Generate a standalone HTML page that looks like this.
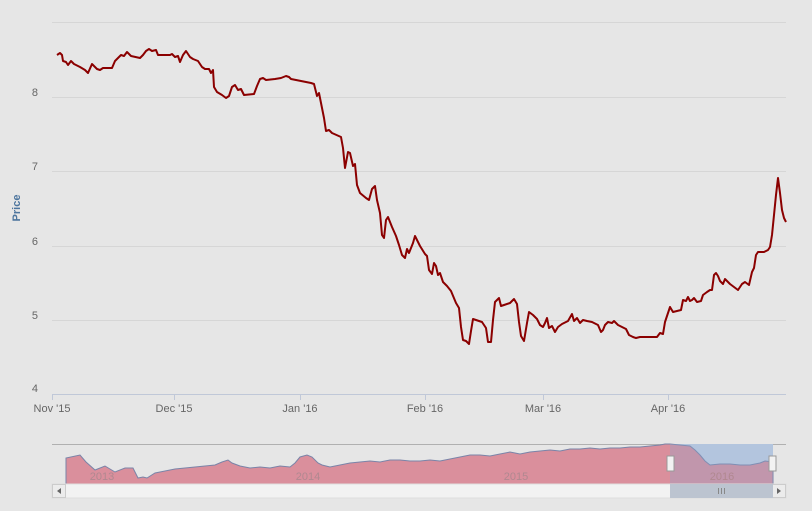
<!DOCTYPE html>
<html><head><meta charset="utf-8"><style>
html,body{margin:0;padding:0;background:#e6e6e6;}
svg{display:block;font-family:"Liberation Sans",sans-serif;}
</style></head><body>
<svg width="812" height="511" viewBox="0 0 812 511" xmlns="http://www.w3.org/2000/svg">
<rect width="812" height="511" fill="#e6e6e6"/>
<g stroke="#d6d6d6" stroke-width="1">
<line x1="52" y1="22.5" x2="786" y2="22.5"/>
<line x1="52" y1="97.5" x2="786" y2="97.5"/>
<line x1="52" y1="171.5" x2="786" y2="171.5"/>
<line x1="52" y1="246.5" x2="786" y2="246.5"/>
<line x1="52" y1="320.5" x2="786" y2="320.5"/>
</g>
<line x1="52" y1="394.5" x2="786" y2="394.5" stroke="#c0c8d8"/>
<g stroke="#c0c8d8">
<line x1="52.5" y1="394" x2="52.5" y2="400"/><line x1="174.5" y1="394" x2="174.5" y2="400"/>
<line x1="300.5" y1="394" x2="300.5" y2="400"/><line x1="425.5" y1="394" x2="425.5" y2="400"/>
<line x1="543.5" y1="394" x2="543.5" y2="400"/><line x1="668.5" y1="394" x2="668.5" y2="400"/>
</g>
<g fill="#666" font-size="11" text-anchor="end">
<text x="38" y="96">8</text><text x="38" y="170">7</text><text x="38" y="245">6</text>
<text x="38" y="319">5</text><text x="38" y="392">4</text>
</g>
<text x="20" y="208" fill="#4d759e" font-size="11" font-weight="bold" transform="rotate(-90 20 208)" text-anchor="middle">Price</text>
<g fill="#666" font-size="11" text-anchor="middle">
<text x="52" y="412">Nov '15</text><text x="174" y="412">Dec '15</text><text x="300" y="412">Jan '16</text>
<text x="425" y="412">Feb '16</text><text x="543" y="412">Mar '16</text><text x="668" y="412">Apr '16</text>
</g>
<polyline fill="none" stroke="#8b0000" stroke-width="2" stroke-linejoin="round" points="57,55 60,53 62,55 63,61 66,62 68,65 71,61 74,64 80,67 85,70 88,73 92,64 97,69 100,70 103,68 112,68 115,61 118,58 121,55 124,56 127,52 131,56 140,58 143,55 146,51 149,49 152,51 156,50 158,55 170,55 172,54 175,57 178,56 180,62 183,55 186,51 190,57 193,59 198,61 202,67 205,69 209,69 211,73 213,70 214,87 217,92 222,95 226,98 229,96 232,87 235,85 238,90 241,89 244,95 254,94 257,86 260,79 263,78 266,80 275,79 281,78 286,76 289,77 291,79 306,82 311,83 314,84 317,96 319,93 321,103 324,118 326,131 329,130 332,133 341,137 343,148 345,168 348,152 350,153 353,166 355,164 357,185 360,193 366,198 369,200 372,189 375,186 377,200 380,213 382,235 384,238 386,220 388,217 392,227 396,236 399,245 402,255 405,258 407,249 409,253 413,243 415,236 420,246 425,254 427,256 429,270 432,274 434,263 436,266 438,275 440,273 443,282 447,286 451,291 456,303 459,308 461,327 463,340 466,341 469,344 471,331 473,319 476,320 482,322 486,328 488,342 491,342 493,320 495,302 499,298 501,306 504,305 510,303 514,299 517,304 519,322 521,336 524,341 527,323 529,312 533,315 537,319 540,325 543,327 545,323 547,318 549,328 552,326 555,332 558,327 562,324 568,321 572,314 574,321 577,318 580,323 583,320 587,321 592,322 598,325 601,332 603,330 605,325 608,322 612,323 614,321 618,325 622,327 626,329 629,335 633,337 636,338 640,337 650,337 657,337 660,333 663,334 665,322 668,313 670,307 673,312 681,310 683,300 686,301 688,297 690,301 692,300 694,298 697,302 701,301 703,295 707,292 710,290 712,290 714,275 716,273 718,276 720,281 723,284 725,279 730,284 738,290 742,284 745,282 749,285 752,272 754,268 756,255 758,252 764,252 768,250 770,247 772,235 774,215 776,195 778,178 780,193 782,210 784,218 786,222"/>
<!-- navigator -->
<line x1="52" y1="444.5" x2="786" y2="444.5" stroke="#b0b0b0"/>
<rect x="670" y="444" width="103" height="40" fill="#c3d2e4"/>
<polygon fill="#d98896" fill-opacity="0.92" stroke="#7a84a8" stroke-width="1" points="66,484 66,458 80,455 86,462 95,470 105,466 115,472 125,468 133,468 138,478 143,477 147,478 155,473 165,471 175,469 185,468 195,467 205,466 215,465 222,462 228,460 232,463 240,466 250,468 260,467 270,468 280,466 290,467 295,463 300,457 307,455 312,457 318,463 322,465 330,467 340,465 350,463 360,462 370,461 380,462 390,460 400,460 410,461 420,461 430,460 440,461 450,459 460,457 470,455 480,455 490,456 500,454 510,452 515,453 520,454 530,452 540,451 550,450 560,451 570,449 580,449 590,448 600,449 610,448 620,448 630,447 640,447 650,446 660,445 665,444 670,444 680,445 690,446 695,450 700,455 705,461 710,465 720,464 730,464 740,465 750,465 760,463 765,461 773,462 773,484"/>
<rect x="670" y="444" width="103" height="40" fill="#8ea8d0" fill-opacity="0.3"/>
<g fill="#b08890" font-size="11" text-anchor="middle">
<text x="102" y="480">2013</text><text x="308" y="480">2014</text><text x="516" y="480">2015</text><text x="722" y="480">2016</text>
</g>
<rect x="667" y="456" width="7" height="15" fill="#f2f2f2" stroke="#999"/>
<rect x="769" y="456" width="7" height="15" fill="#f2f2f2" stroke="#999"/>
<!-- scrollbar -->
<rect x="52" y="484" width="734" height="14" fill="#f2f2f2" stroke="#ddd"/>
<rect x="52.5" y="484.5" width="13" height="13" fill="#ececec" stroke="#ccc"/>
<rect x="772.5" y="484.5" width="13" height="13" fill="#ececec" stroke="#ccc"/>
<path d="M61,488 L57,491 L61,494Z M777,488 L781,491 L777,494Z" fill="#666"/>
<rect x="670" y="484" width="103" height="14" fill="#bcc4d0"/>
<g stroke="#888"><line x1="718.5" y1="488" x2="718.5" y2="494"/><line x1="721.5" y1="488" x2="721.5" y2="494"/><line x1="724.5" y1="488" x2="724.5" y2="494"/></g>
</svg>
</body></html>
